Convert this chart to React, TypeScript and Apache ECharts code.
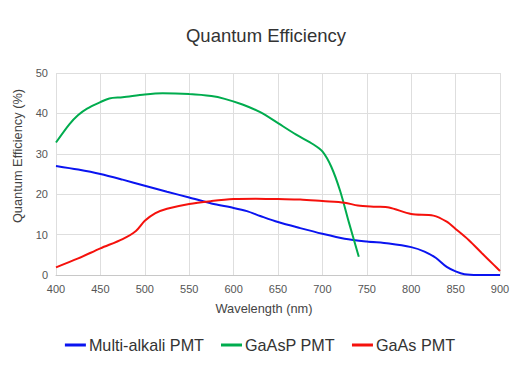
import React, { useEffect, useRef } from "react";
import * as echarts from "echarts";

const seriesNames = ["Multi-alkali PMT", "GaAsP PMT", "GaAs PMT"];
const seriesColors = ["#0a14f0", "#00ac4e", "#f5110c"];

const multiAlkaliWl = [400, 425, 450, 475, 500, 525, 550, 575, 600, 615, 630, 650, 675, 700, 725, 750, 775, 800, 815, 828, 840, 850, 860, 875, 900];
const multiAlkaliQe = [27, 26.1, 25, 23.6, 22.1, 20.6, 19.2, 17.7, 16.6, 15.8, 14.6, 13.1, 11.6, 10.2, 9.0, 8.3, 7.8, 6.9, 5.8, 4.2, 2.0, 0.9, 0.2, 0, 0];

const gaaspWl = [400, 415, 425, 435, 450, 460, 475, 500, 520, 550, 575, 590, 610, 630, 650, 670, 690, 700, 710, 720, 730, 741];
const gaaspQe = [32.8, 37.3, 39.6, 41.2, 42.8, 43.7, 44.0, 44.7, 45.0, 44.8, 44.3, 43.6, 42.2, 40.3, 37.6, 34.8, 32.3, 30.6, 26.8, 20.8, 12.9, 4.5];

const gaasWl = [400, 425, 450, 475, 490, 500, 512, 525, 550, 575, 600, 625, 650, 675, 700, 725, 740, 760, 775, 800, 825, 840, 850, 865, 880, 893, 900];
const gaasQe = [1.9, 4.1, 6.6, 8.9, 10.9, 13.4, 15.3, 16.4, 17.6, 18.3, 18.8, 18.9, 18.8, 18.7, 18.3, 17.9, 17.2, 16.9, 16.7, 15.1, 14.7, 13.2, 11.4, 8.6, 5.3, 2.5, 1.0];

const xTicks = [400, 900, 50];
const yTicks = [0, 50, 10];

const titleText = "Quantum Efficiency";
const xName = "Wavelength (nm)";
const yName = "Quantum Efficiency (%)";

function pairs(xs: number[], ys: number[]) {
  return xs.map((x, i) => [x, ys[i]]);
}

export default function App() {
  const ref = useRef<HTMLDivElement>(null);
  useEffect(() => {
    if (!ref.current) return;
    const chart = echarts.init(ref.current, null, { renderer: "svg" });
    const font = "Helvetica, 'Liberation Sans', Arial, sans-serif";
    const datasets = [
      pairs(multiAlkaliWl, multiAlkaliQe),
      pairs(gaaspWl, gaaspQe),
      pairs(gaasWl, gaasQe),
    ];
    chart.setOption({
      animation: false,
      backgroundColor: "#ffffff",
      textStyle: { fontFamily: font },
      graphic: [
        {
          type: "text",
          x: 266,
          y: 35,
          style: {
            text: titleText,
            fontSize: 18.5,
            fill: "#333",
            fontFamily: font,
            align: "center",
            verticalAlign: "middle",
          },
        },
        {
          type: "text",
          x: 264,
          y: 308,
          style: {
            text: xName,
            fontSize: 12.8,
            fill: "#444",
            fontFamily: font,
            align: "center",
            verticalAlign: "middle",
          },
        },
        {
          type: "text",
          x: 17,
          y: 156,
          rotation: Math.PI / 2,
          style: {
            text: yName,
            fontSize: 12.8,
            fill: "#444",
            fontFamily: font,
            align: "center",
            verticalAlign: "middle",
          },
        },
      ],
      legend: {
        bottom: 32,
        left: "center",
        itemWidth: 21,
        itemHeight: 3,
        itemGap: 17,
        icon: "rect",
        textStyle: { fontSize: 16.2, color: "#333", fontFamily: font, padding: [0, 0, 0, -2] },
        data: seriesNames,
      },
      grid: { left: 56, right: 20, top: 73, bottom: 115, containLabel: false },
      xAxis: {
        type: "value",
        min: xTicks[0],
        max: xTicks[1],
        interval: xTicks[2],
        axisLine: { show: true, lineStyle: { color: "#c8c8c8" } },
        axisTick: { show: false },
        axisLabel: { fontSize: 11, color: "#555", margin: 8, fontFamily: font },
        splitLine: { show: true, lineStyle: { color: "#dedede" } },
      },
      yAxis: {
        type: "value",
        min: yTicks[0],
        max: yTicks[1],
        interval: yTicks[2],
        axisLine: { show: false },
        axisTick: { show: false },
        axisLabel: { fontSize: 11, color: "#555", margin: 8, fontFamily: font },
        splitLine: { show: true, lineStyle: { color: "#dedede" } },
      },
      series: seriesNames.map((name, i) => ({
        name,
        type: "line",
        data: datasets[i],
        smooth: 0.3,
        showSymbol: false,
        symbol: "none",
        color: seriesColors[i],
        lineStyle: { width: 2, color: seriesColors[i] },
      })),
    });
    return () => chart.dispose();
  }, []);
  return <div ref={ref} style={{ width: 520, height: 390, position: "absolute", left: 0, top: 0 }} />;
}
